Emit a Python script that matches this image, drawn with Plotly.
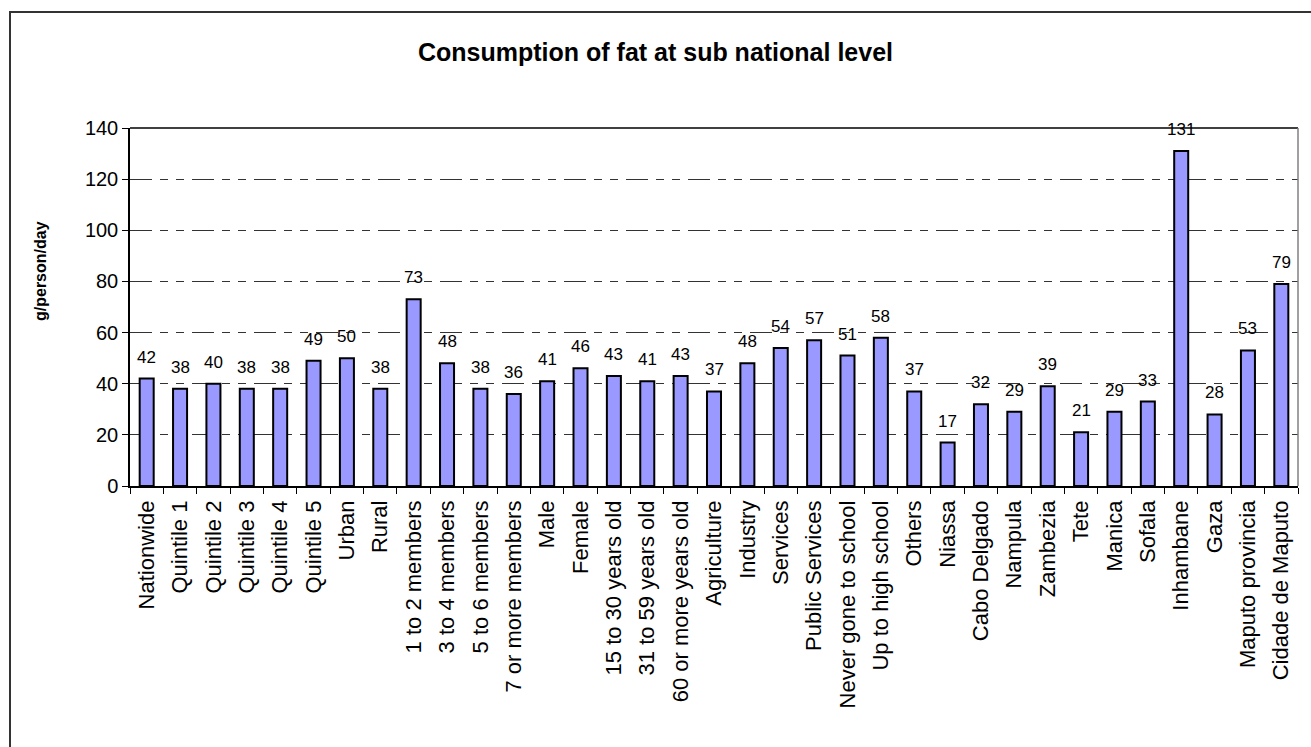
import plotly.graph_objects as go

# Fat consumption by population group (g/person/day)
categories = [
    "Nationwide", "Quintile 1", "Quintile 2", "Quintile 3", "Quintile 4", "Quintile 5",
    "Urban", "Rural", "1 to 2 members", "3 to 4 members", "5 to 6 members",
    "7 or more members", "Male", "Female", "15 to 30 years old", "31 to 59 years old",
    "60 or more years old", "Agriculture", "Industry", "Services", "Public Services",
    "Never gone to school", "Up to high school", "Others", "Niassa", "Cabo Delgado",
    "Nampula", "Zambezia", "Tete", "Manica", "Sofala", "Inhambane", "Gaza",
    "Maputo provincia", "Cidade de Maputo",
]
fat_values = [
    42, 38, 40, 38, 38, 49, 50, 38, 73, 48, 38, 36, 41, 46, 43, 41, 43, 37, 48, 54,
    57, 51, 58, 37, 17, 32, 29, 39, 21, 29, 33, 131, 28, 53, 79,
]
y_ticks = [0, 20, 40, 60, 80, 100, 120, 140]

FONT = "Liberation Sans, Arial, sans-serif"
W, H = 1311, 747
L, R, T, B = 130, 13, 128, 261
pw, ph = W - L - R, H - T - B

fig = go.Figure(
    go.Bar(
        x=categories,
        y=fat_values,
        marker=dict(color="#9999FF", line=dict(color="black", width=2)),
        hoverinfo="x+y",
    )
)

# value labels above each bar
for c, v in zip(categories, fat_values):
    fig.add_annotation(
        x=c, y=v, text=str(v), showarrow=False, yanchor="bottom", yshift=10,
        font=dict(family=FONT, size=17, color="black"),
    )

# y-axis title
fig.add_annotation(
    xref="paper", yref="paper", x=(40 - L) / pw, y=(H - B - 271) / ph,
    text="<b>g/person/day</b>", textangle=-90, showarrow=False,
    xanchor="center", yanchor="middle",
    font=dict(family=FONT, size=16, color="black"),
)

# plot-area border: solid top, grey right edge
fig.add_shape(type="line", xref="paper", yref="paper", x0=0, x1=1, y0=1, y1=1,
              line=dict(color="black", width=1.5))
fig.add_shape(type="line", xref="paper", yref="paper", x0=1, x1=1, y0=0, y1=1,
              line=dict(color="#808080", width=1.5))

# outer chart frame
fig.add_shape(type="rect", xref="paper", yref="paper",
              x0=(10 - L) / pw, x1=(W + 20 - L) / pw,
              y0=(H - B - 12) / ph, y1=(H - B - (H + 20)) / ph,
              line=dict(color="#333333", width=2), layer="above")

fig.update_layout(
    width=W, height=H,
    margin=dict(l=L, r=R, t=T, b=B, autoexpand=False),
    paper_bgcolor="white", plot_bgcolor="white",
    showlegend=False,
    bargap=0.58,
    font=dict(family=FONT, color="black"),
    title=dict(
        text="<b>Consumption of fat at sub national level</b>",
        x=0.5, xref="container", xanchor="center",
        y=1 - 52 / H, yref="container", yanchor="middle",
        font=dict(family=FONT, size=25, color="black"),
    ),
    xaxis=dict(
        type="category", tickangle=-90, tickson="boundaries",
        ticks="outside", ticklen=6, tickcolor="black", tickwidth=1,
        ticklabelstandoff=4,
        showline=True, linecolor="black", linewidth=1.5,
        showgrid=False, automargin=False,
        tickfont=dict(family=FONT, size=22, color="black"),
    ),
    yaxis=dict(
        range=[0, 140], tickvals=y_ticks,
        ticks="outside", ticklen=6, tickcolor="black", tickwidth=1,
        showline=True, linecolor="black", linewidth=1.5,
        showgrid=True, gridcolor="#333333", gridwidth=1,
        griddash="22px,8px,8px,8px,8px,8px",
        zeroline=False, automargin=False,
        tickfont=dict(family=FONT, size=20, color="black"),
    ),
)

fig.write_html("out.html")
